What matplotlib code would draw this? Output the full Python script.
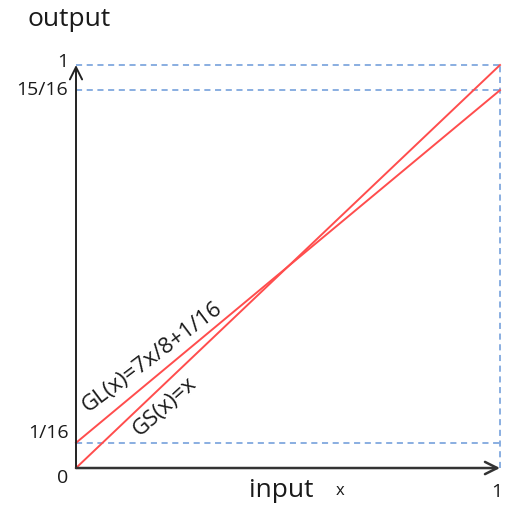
import numpy as np
import matplotlib
matplotlib.use('Agg')
import matplotlib.pyplot as plt

plt.rcParams['font.family'] = ['Open Sans', 'DejaVu Sans']

# data
x_vals = np.array([0.0, 1.0])
gs_vals = x_vals                       # GS(x) = x
gl_vals = 7 * x_vals / 8 + 1.0 / 16    # GL(x) = 7x/8 + 1/16
ytick_vals = [0, 1.0 / 16, 15.0 / 16, 1]
ytick_labels = ['0', '1/16', '15/16', '1']
guide_levels = [1.0 / 16, 15.0 / 16, 1.0]

fig = plt.figure(figsize=(5.05, 5.08), dpi=100)
ax = fig.add_axes([0.1505, 0.0787, 0.8396, 0.7933])
ax.set_xlim(0, 1)
ax.set_ylim(0, 1)
ax.axis('off')

line_col = '#ff4d4d'
dash_col = '#6a98d8'
txt_col = '#1a1a1a'

# dashed guide lines
for lv in guide_levels:
    ax.plot([0, 1], [lv, lv], color=dash_col, lw=1.1, dashes=(4, 3), clip_on=False)
ax.plot([1, 1], [0, 1], color=dash_col, lw=1.1, dashes=(4, 3), clip_on=False)

# the two functions
ax.plot(x_vals, gs_vals, color=line_col, lw=1.4, clip_on=False)
ax.plot(x_vals, gl_vals, color=line_col, lw=1.4, clip_on=False)

# axes arrows
ax.annotate('', xy=(0, 1.0), xytext=(0, 0),
            arrowprops=dict(arrowstyle='->', color='#222222', lw=1.4,
                            shrinkA=0, shrinkB=0, mutation_scale=22))
ax.annotate('', xy=(1.0, 0), xytext=(0, 0),
            arrowprops=dict(arrowstyle='->', color='#333333', lw=1.8,
                            shrinkA=0, shrinkB=0, mutation_scale=22))

# y tick labels
yoffs = {0: -0.025, 1.0 / 16: 0.025, 15.0 / 16: 0.0, 1: 0.008}
for v, lab in zip(ytick_vals, ytick_labels):
    ax.text(-0.018, v + yoffs[v], lab, ha='right', va='center', fontsize=14,
            color=txt_col, clip_on=False)
ax.text(0.992, -0.06, '1', ha='center', va='center', fontsize=14,
        color=txt_col, clip_on=False)

# axis names
ax.text(-0.115, 1.113, 'output', ha='left', va='center', fontsize=19, color=txt_col)
ax.text(0.483, -0.055, 'input', ha='center', va='center', fontsize=19, color=txt_col)
ax.text(0.622, -0.058, 'x', ha='center', va='center', fontsize=12, color=txt_col)

# line labels
ax.text(0.179, 0.275, 'GL(x)=7x/8+1/16', rotation=37, ha='center', va='center',
        fontsize=16, color=txt_col, rotation_mode='anchor')
ax.text(0.21, 0.153, 'GS(x)=x', rotation=42, ha='center', va='center',
        fontsize=16, color=txt_col, rotation_mode='anchor')

plt.savefig('out.png', dpi=100)
